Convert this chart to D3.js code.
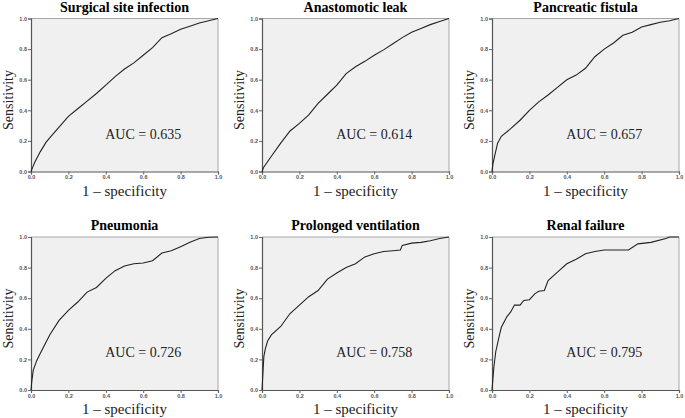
<!DOCTYPE html>
<html>
<head>
<meta charset="utf-8">
<script src="https://cdn.jsdelivr.net/npm/d3@7"></script>
<style>
  body { margin: 0; background: #fff; }
</style>
</head>
<body>
<div id="chart"></div>
<script>
// ROC points: [1 - specificity, sensitivity]
const ssiRoc = [[0,0],[0.01,0.03],[0.02,0.06],[0.05,0.13],[0.08,0.19],[0.1,0.22],[0.15,0.29],[0.2,0.36],[0.25,0.41],[0.3,0.46],[0.35,0.51],[0.4,0.565],[0.45,0.62],[0.5,0.67],[0.55,0.71],[0.6,0.76],[0.65,0.81],[0.7,0.875],[0.75,0.9],[0.8,0.93],[0.85,0.95],[0.9,0.97],[0.95,0.985],[1,1]];
const leakRoc = [[0,0],[0.01,0.03],[0.05,0.1],[0.1,0.185],[0.15,0.265],[0.2,0.315],[0.25,0.37],[0.3,0.445],[0.35,0.505],[0.4,0.565],[0.45,0.64],[0.5,0.685],[0.55,0.72],[0.6,0.76],[0.65,0.795],[0.7,0.835],[0.75,0.875],[0.8,0.91],[0.85,0.935],[0.9,0.96],[0.95,0.98],[1,1]];
const fistulaRoc = [[0,0],[0.005,0.05],[0.014,0.1],[0.03,0.185],[0.05,0.23],[0.1,0.28],[0.15,0.335],[0.2,0.4],[0.25,0.455],[0.3,0.5],[0.35,0.55],[0.4,0.6],[0.45,0.63],[0.5,0.675],[0.52,0.705],[0.55,0.75],[0.6,0.8],[0.65,0.84],[0.7,0.89],[0.75,0.91],[0.8,0.945],[0.85,0.96],[0.9,0.975],[0.95,0.985],[1,1]];
const pneumoniaRoc = [[0,0],[0.004,0.054],[0.012,0.13],[0.03,0.19],[0.05,0.24],[0.1,0.36],[0.15,0.455],[0.2,0.52],[0.25,0.575],[0.3,0.64],[0.35,0.67],[0.4,0.73],[0.45,0.78],[0.5,0.81],[0.55,0.825],[0.6,0.83],[0.65,0.845],[0.7,0.895],[0.75,0.91],[0.8,0.937],[0.85,0.965],[0.9,0.99],[0.95,0.998],[1,1]];
const ventRoc = [[0,0],[0.01,0.22],[0.018,0.27],[0.03,0.32],[0.05,0.36],[0.1,0.415],[0.15,0.5],[0.2,0.555],[0.25,0.61],[0.3,0.65],[0.35,0.725],[0.4,0.765],[0.45,0.8],[0.5,0.825],[0.55,0.87],[0.6,0.89],[0.65,0.905],[0.7,0.91],[0.74,0.915],[0.75,0.945],[0.8,0.96],[0.85,0.965],[0.9,0.975],[0.95,0.99],[1,1]];
const renalRoc = [[0,0],[0.01,0.15],[0.02,0.25],[0.04,0.36],[0.05,0.41],[0.08,0.48],[0.1,0.51],[0.12,0.555],[0.15,0.555],[0.17,0.585],[0.2,0.59],[0.23,0.63],[0.25,0.645],[0.28,0.65],[0.3,0.715],[0.35,0.77],[0.4,0.825],[0.45,0.855],[0.5,0.89],[0.55,0.905],[0.6,0.915],[0.73,0.915],[0.78,0.955],[0.85,0.965],[0.93,0.99],[0.95,1],[1,1]];

const titles = ["Surgical site infection", "Anastomotic leak", "Pancreatic fistula", "Pneumonia", "Prolonged ventilation", "Renal failure"];
const aucs = ["0.635", "0.614", "0.657", "0.726", "0.758", "0.795"];
const curves = [ssiRoc, leakRoc, fistulaRoc, pneumoniaRoc, ventRoc, renalRoc];
const ticks = [0, 0.2, 0.4, 0.6, 0.8, 1.0];

/**
 * Layout
 */
let svgWidth = 685;
let svgHeight = 418;
let colX = [31, 262, 492];
let rowY = [18.5, 237];
let plotWidth = 187;
let plotHeight = 153;

const svg = d3.select("#chart")
    .append("svg")
    .attr("width", svgWidth)
    .attr("height", svgHeight);

const serif = "'Liberation Serif', 'Times New Roman', serif";
const sans = "'Liberation Sans', Arial, sans-serif";

curves.forEach((curve, i) => {
    const px = colX[i % 3];
    const py = rowY[Math.floor(i / 3)];
    const x = d3.scaleLinear().domain([0, 1]).range([0, plotWidth]);
    const y = d3.scaleLinear().domain([0, 1]).range([plotHeight, 0]);

    const g = svg.append("g").attr("transform", `translate(${px},${py})`);

    // background
    g.append("rect")
        .attr("width", plotWidth)
        .attr("height", plotHeight)
        .attr("fill", "#f0f0f0");

    // top and right frame
    g.append("path")
        .attr("d", `M0,0H${plotWidth}V${plotHeight}`)
        .attr("fill", "none")
        .attr("stroke", "#a8a8a8")
        .attr("stroke-width", 1);

    // axes
    const xAxis = g.append("g")
        .attr("transform", `translate(0,${plotHeight})`)
        .call(d3.axisBottom(x).tickValues(ticks).tickFormat(d3.format(".1f")).tickSize(3).tickPadding(1));
    const yAxis = g.append("g")
        .call(d3.axisLeft(y).tickValues(ticks).tickFormat(d3.format(".1f")).tickSize(3).tickPadding(1));
    [xAxis, yAxis].forEach(a => {
        a.select(".domain").attr("stroke", "#555").attr("stroke-width", 1.2);
        a.selectAll(".tick line").attr("stroke", "#666");
        a.selectAll(".tick text")
            .attr("font-family", sans)
            .attr("font-size", 5.5)
            .attr("font-weight", "bold")
            .attr("fill", "#555");
    });

    // curve
    g.append("path")
        .datum(curve)
        .attr("d", d3.line().x(d => x(d[0])).y(d => y(d[1])))
        .attr("fill", "none")
        .attr("stroke", "#222")
        .attr("stroke-width", 1.1);

    // title
    g.append("text")
        .attr("x", plotWidth / 2)
        .attr("y", -7)
        .attr("text-anchor", "middle")
        .attr("font-family", serif)
        .attr("font-weight", "bold")
        .attr("font-size", 14)
        .text(titles[i]);

    // AUC
    g.append("text")
        .attr("x", x(0.6))
        .attr("y", y(0.215))
        .attr("text-anchor", "middle")
        .attr("font-family", serif)
        .attr("font-size", 14)
        .attr("fill", "#222")
        .text(`AUC = ${aucs[i]}`);

    // axis titles
    g.append("text")
        .attr("x", plotWidth / 2)
        .attr("y", plotHeight + 24)
        .attr("text-anchor", "middle")
        .attr("font-family", serif)
        .attr("font-size", 15)
        .attr("fill", "#222")
        .text("1 \u2013 specificity");
    g.append("text")
        .attr("transform", `translate(-18,${plotHeight / 2 + 5}) rotate(-90)`)
        .attr("text-anchor", "middle")
        .attr("font-family", serif)
        .attr("font-size", 14)
        .attr("fill", "#222")
        .text("Sensitivity");
});
</script>
</body>
</html>
